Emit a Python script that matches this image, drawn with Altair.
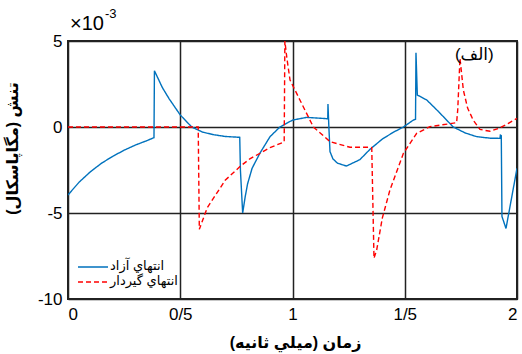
import altair as alt
import pandas as pd

FONT = "Liberation Sans, Arial, DejaVu Sans, sans-serif"

# Free end (solid blue): time in ms, stress in 1e-3 MPa
free_t = [0.0, 0.05, 0.1, 0.15, 0.2, 0.25, 0.3, 0.35, 0.383, 0.385, 0.42, 0.45, 0.5,
          0.551, 0.6, 0.65, 0.7, 0.765, 0.768, 0.778, 0.79, 0.8, 0.82, 0.855, 0.9, 0.944, 1.0,
          1.063, 1.157, 1.158, 1.162, 1.167, 1.18, 1.2, 1.24, 1.3, 1.345, 1.4, 1.45,
          1.494, 1.538, 1.548, 1.55, 1.556, 1.598, 1.65, 1.716, 1.77, 1.82, 1.88,
          1.924, 1.926, 1.93, 1.933, 1.951, 2.0]
free_s = [-3.95, -3.2, -2.6, -2.1, -1.7, -1.35, -1.05, -0.8, -0.62, 3.27, 2.3, 1.65, 0.7,
          0.0, -0.3, -0.45, -0.55, -0.6, -2.5, -5.0, -4.0, -3.3, -2.4, -1.52, -0.56, 0.0, 0.4,
          0.56, 0.48, 1.34, 0.0, -1.43, -1.85, -2.1, -2.27, -1.9, -1.3, -0.7, -0.3,
          0.0, 0.4, 0.45, 4.32, 1.86, 1.57, 0.9, 0.0, -0.35, -0.56, -0.65,
          -0.66, -0.47, -0.5, -5.2, -5.9, -2.4]

# Fixed end (dashed red)
fixed_t = [0.0, 0.58, 0.585, 0.62, 0.662, 0.7, 0.766, 0.81, 0.855, 0.9, 0.959, 0.963,
           0.966, 0.975, 0.989, 1.033, 1.093, 1.167, 1.256, 1.345, 1.353, 1.363, 1.375,
           1.4, 1.434, 1.494, 1.553, 1.612, 1.731, 1.736, 1.746, 1.761, 1.78, 1.805,
           1.835, 1.88, 1.924, 1.96, 2.0]
fixed_s = [0.0, 0.0, -5.95, -4.7, -3.86, -3.1, -2.3, -1.85, -1.53, -1.2, -0.89, -0.85,
           5.0, 4.0, 2.73, 1.57, 0.0, -0.85, -1.18, -1.18, -1.2, -7.63, -7.15,
           -5.3, -3.66, -1.53, -0.37, 0.02, 0.25, 1.0, 4.0, 2.15, 1.1, 0.4,
           -0.14, -0.25, -0.05, 0.2, 0.5]

series_names = ["انتهاي آزاد", "انتهاي گيردار"]
series_colors = ["#0072BD", "#FF0000"]
series_dash = [[1, 0], [5, 3]]

x_ticks = [0, 0.5, 1, 1.5, 2]
y_ticks = [-10, -5, 0, 5]

df = pd.concat([
    pd.DataFrame({"t": free_t, "s": free_s, "series": series_names[0], "order": range(len(free_t))}),
    pd.DataFrame({"t": fixed_t, "s": fixed_s, "series": series_names[1], "order": range(len(fixed_t))}),
])

panel_label = pd.DataFrame({"t": [1.81], "s": [4.2], "txt": ["(الف)"]})

x_enc = alt.X("t:Q", scale=alt.Scale(domain=[0, 2], nice=False),
              axis=alt.Axis(values=x_ticks, title="زمان (ميلي ثانيه)",
                            labelExpr="replace(toString(datum.value), '.', '/')",
                            grid=True, gridColor="#222222", gridWidth=1.5,
                            ticks=False, domain=False, labelPadding=7,
                            labelFontSize=17, labelFont=FONT, labelColor="#000000",
                            titleFont=FONT, titleFontSize=16, titleFontWeight="bold",
                            titleX=227, titleY=43, titleBaseline="middle", titleColor="#000000"))
y_enc = alt.Y("s:Q", scale=alt.Scale(domain=[-10, 5], nice=False),
              axis=alt.Axis(values=y_ticks, title="تنش (مگاپاسکال)",
                            grid=True, gridColor="#222222", gridWidth=1.5,
                            ticks=False, domain=False, labelPadding=6,
                            labelExpr="toString(datum.value)",
                            labelFontSize=17, labelFont=FONT, labelColor="#000000",
                            titleFont=FONT, titleFontSize=16, titleFontWeight="bold",
                            titleX=-56, titleY=107, titleBaseline="middle", titleColor="#000000"))

lines = alt.Chart(df).mark_line(strokeWidth=1.4, clip=True).encode(
    x=x_enc,
    y=y_enc,
    order="order:Q",
    color=alt.Color("series:N", scale=alt.Scale(domain=series_names, range=series_colors),
                    legend=None),
    strokeDash=alt.StrokeDash("series:N", scale=alt.Scale(domain=series_names, range=series_dash),
                              legend=None),
)

panel_text = alt.Chart(panel_label).mark_text(
    font=FONT, fontSize=17, color="#000000", align="center", baseline="middle"
).encode(x="t:Q", y="s:Q", text="txt:N")

# Legend drawn in the lower-left corner of the plot: one key line and label per series
legend_layers = []
for i, (name, col, dash) in enumerate(zip(series_names, series_colors, series_dash)):
    row_y = 226 + 15 * i
    key = alt.Chart(panel_label).mark_rule(color=col, strokeWidth=1.4, strokeDash=dash).encode(
        x=alt.value(10), x2=alt.value(40), y=alt.value(row_y))
    lab = alt.Chart(panel_label).mark_text(
        font=FONT, fontSize=13, color="#000000", align="left", baseline="middle"
    ).encode(x=alt.value(42), y=alt.value(row_y - 1), text=alt.value(name))
    legend_layers += [key, lab]

# Axis multiplier above the top-left corner
exp_base = alt.Chart(panel_label).mark_text(
    font=FONT, fontSize=20, color="#000000", align="left", baseline="alphabetic"
).encode(x=alt.value(2), y=alt.value(-11), text=alt.value("×10"))

exp_sup = alt.Chart(panel_label).mark_text(
    font=FONT, fontSize=13, color="#000000", align="left", baseline="alphabetic"
).encode(x=alt.value(37), y=alt.value(-23), text=alt.value("-3"))

chart = alt.layer(lines, panel_text, *legend_layers, exp_base, exp_sup).properties(
    width=449, height=258,
    autosize=alt.AutoSizeParams(type="none"),
    padding={"left": 68, "top": 41, "right": 5, "bottom": 55},
    background="#ffffff",
).configure_view(stroke="#222222", strokeWidth=2)

chart.save("out.html", embed_options={"renderer": "svg", "actions": False})
